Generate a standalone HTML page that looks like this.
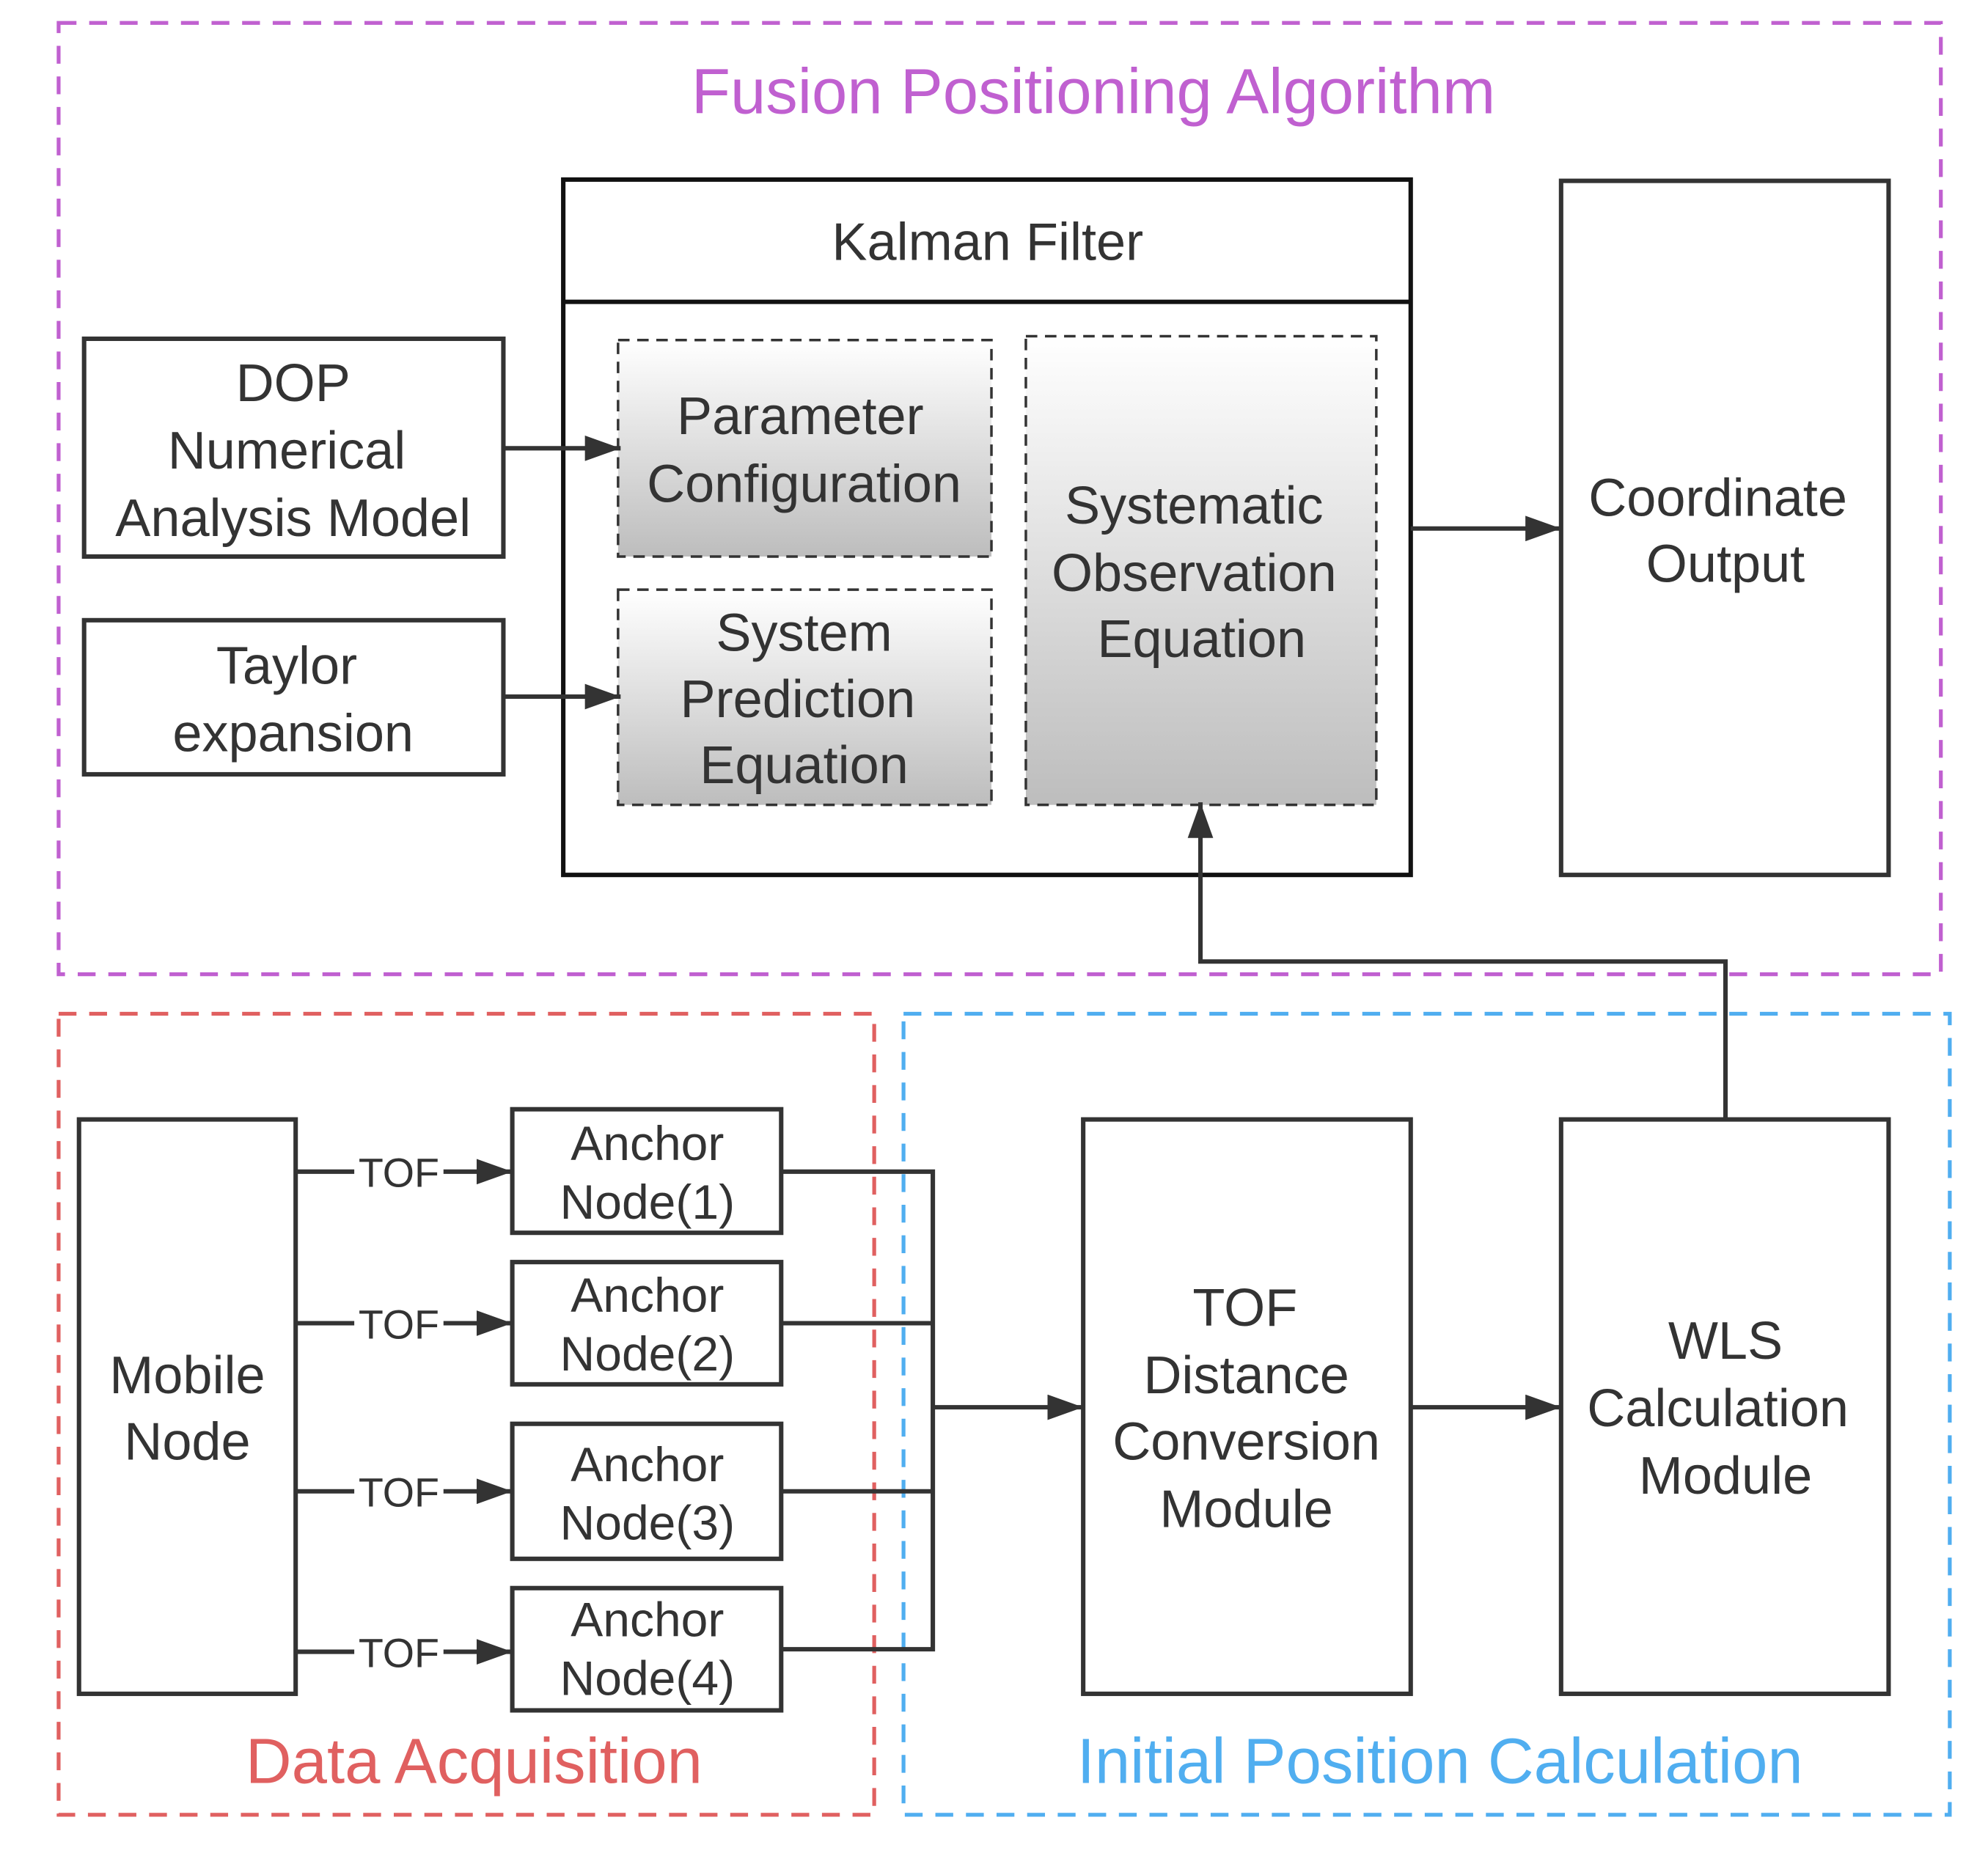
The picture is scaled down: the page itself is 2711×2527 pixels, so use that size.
<!DOCTYPE html>
<html><head><meta charset="utf-8"><style>
html,body{margin:0;padding:0;background:#fff;}
svg{display:block;}
text{font-family:"Liberation Sans",Arial,sans-serif;fill:#333;text-anchor:middle;}
</style></head><body>
<svg width="2711" height="2527" viewBox="0 0 1560 1455" preserveAspectRatio="none" xmlns="http://www.w3.org/2000/svg">
<defs>
<linearGradient id="g" x1="0" y1="0" x2="0" y2="1">
<stop offset="0" stop-color="#ffffff"/><stop offset="1" stop-color="#bdbdbd"/>
</linearGradient>
<marker id="a" markerWidth="28" markerHeight="20" refX="28" refY="10" orient="auto" markerUnits="userSpaceOnUse" viewBox="0 0 28 20">
<path d="M0,0 L28,10 L0,20 z" fill="#333"/>
</marker>
</defs>
<rect width="1560" height="1455" fill="#fff"/>
<rect x="46" y="18" width="1477" height="747" fill="none" stroke="#c060d0" stroke-width="3" stroke-dasharray="14,10"/>
<rect x="46" y="796" width="640" height="629" fill="none" stroke="#e06060" stroke-width="3" stroke-dasharray="14,10"/>
<rect x="709" y="796" width="821" height="629" fill="none" stroke="#50aef0" stroke-width="3" stroke-dasharray="14,10"/>
<text x="858" y="89" font-size="50" style="fill:#c060d0">Fusion Positioning Algorithm</text>
<text x="372" y="1400" font-size="50" style="fill:#e06060">Data Acquisition</text>
<text x="1130" y="1400" font-size="50" style="fill:#50aef0">Initial Position Calculation</text>

<g stroke="#333" stroke-width="3.5" fill="none">
<rect x="442" y="141" width="665" height="546" stroke="#111"/>
<line x1="442" y1="237" x2="1107" y2="237" stroke="#111"/>
<rect x="485" y="267" width="293" height="170" fill="url(#g)" stroke-width="2" stroke-dasharray="9,6"/>
<rect x="485" y="463" width="293" height="169" fill="url(#g)" stroke-width="2" stroke-dasharray="9,6"/>
<rect x="805" y="264" width="275" height="368" fill="url(#g)" stroke-width="2" stroke-dasharray="9,6"/>
<rect x="66" y="266" width="329" height="171"/>
<rect x="66" y="487" width="329" height="121"/>
<rect x="1225" y="142" width="257" height="545"/>
<rect x="62" y="879" width="170" height="451"/>
<rect x="402" y="871" width="211" height="97"/>
<rect x="402" y="991" width="211" height="96"/>
<rect x="402" y="1118" width="211" height="106"/>
<rect x="402" y="1247" width="211" height="96"/>
<rect x="850" y="879" width="257" height="451"/>
<rect x="1225" y="879" width="257" height="451"/>
<line x1="395" y1="352" x2="487" y2="352" marker-end="url(#a)"/>
<line x1="395" y1="547" x2="487" y2="547" marker-end="url(#a)"/>
<line x1="1107" y1="415" x2="1225" y2="415" marker-end="url(#a)"/>
<polyline points="1354,879 1354,755 942,755 942,630" marker-end="url(#a)"/>
<line x1="232" y1="920" x2="278" y2="920"/><line x1="348" y1="920" x2="402" y2="920" marker-end="url(#a)"/>
<line x1="232" y1="1039" x2="278" y2="1039"/><line x1="348" y1="1039" x2="402" y2="1039" marker-end="url(#a)"/>
<line x1="232" y1="1171" x2="278" y2="1171"/><line x1="348" y1="1171" x2="402" y2="1171" marker-end="url(#a)"/>
<line x1="232" y1="1297" x2="278" y2="1297"/><line x1="348" y1="1297" x2="402" y2="1297" marker-end="url(#a)"/>
<polyline points="613,920 732,920 732,1295 613,1295"/>
<line x1="613" y1="1039" x2="732" y2="1039"/>
<line x1="613" y1="1171" x2="732" y2="1171"/>
<line x1="732" y1="1105" x2="850" y2="1105" marker-end="url(#a)"/>
<line x1="1107" y1="1105" x2="1225" y2="1105" marker-end="url(#a)"/>
</g>
<g font-size="41.5">
<text x="775" y="204">Kalman Filter</text>
<text x="628" y="341">Parameter</text><text x="631" y="394">Configuration</text>
<text x="631" y="511">System</text><text x="626" y="563">Prediction</text><text x="631" y="615">Equation</text>
<text x="937" y="411">Systematic</text><text x="937" y="464">Observation</text><text x="943" y="516">Equation</text>
<text x="230" y="315">DOP</text><text x="225" y="368">Numerical</text><text x="230" y="421">Analysis Model</text>
<text x="225" y="537">Taylor</text><text x="230" y="590">expansion</text>
<text x="1348" y="405">Coordinate</text><text x="1354" y="457">Output</text>
<text x="147" y="1094">Mobile</text><text x="147" y="1146">Node</text>
<text x="977" y="1041">TOF</text><text x="978" y="1094">Distance</text><text x="978" y="1146">Conversion</text><text x="978" y="1199">Module</text>
<text x="1354" y="1067">WLS</text><text x="1348" y="1120">Calculation</text><text x="1354" y="1173">Module</text>
</g>
<g font-size="38">
<text x="508" y="911">Anchor</text><text x="508" y="957">Node(1)</text>
<text x="508" y="1030">Anchor</text><text x="508" y="1076">Node(2)</text>
<text x="508" y="1163">Anchor</text><text x="508" y="1209">Node(3)</text>
<text x="508" y="1285">Anchor</text><text x="508" y="1331">Node(4)</text>
</g>
<g font-size="32">
<text x="313" y="932">TOF</text><text x="313" y="1051">TOF</text><text x="313" y="1183">TOF</text><text x="313" y="1309">TOF</text>
</g>
</svg>
</body></html>
